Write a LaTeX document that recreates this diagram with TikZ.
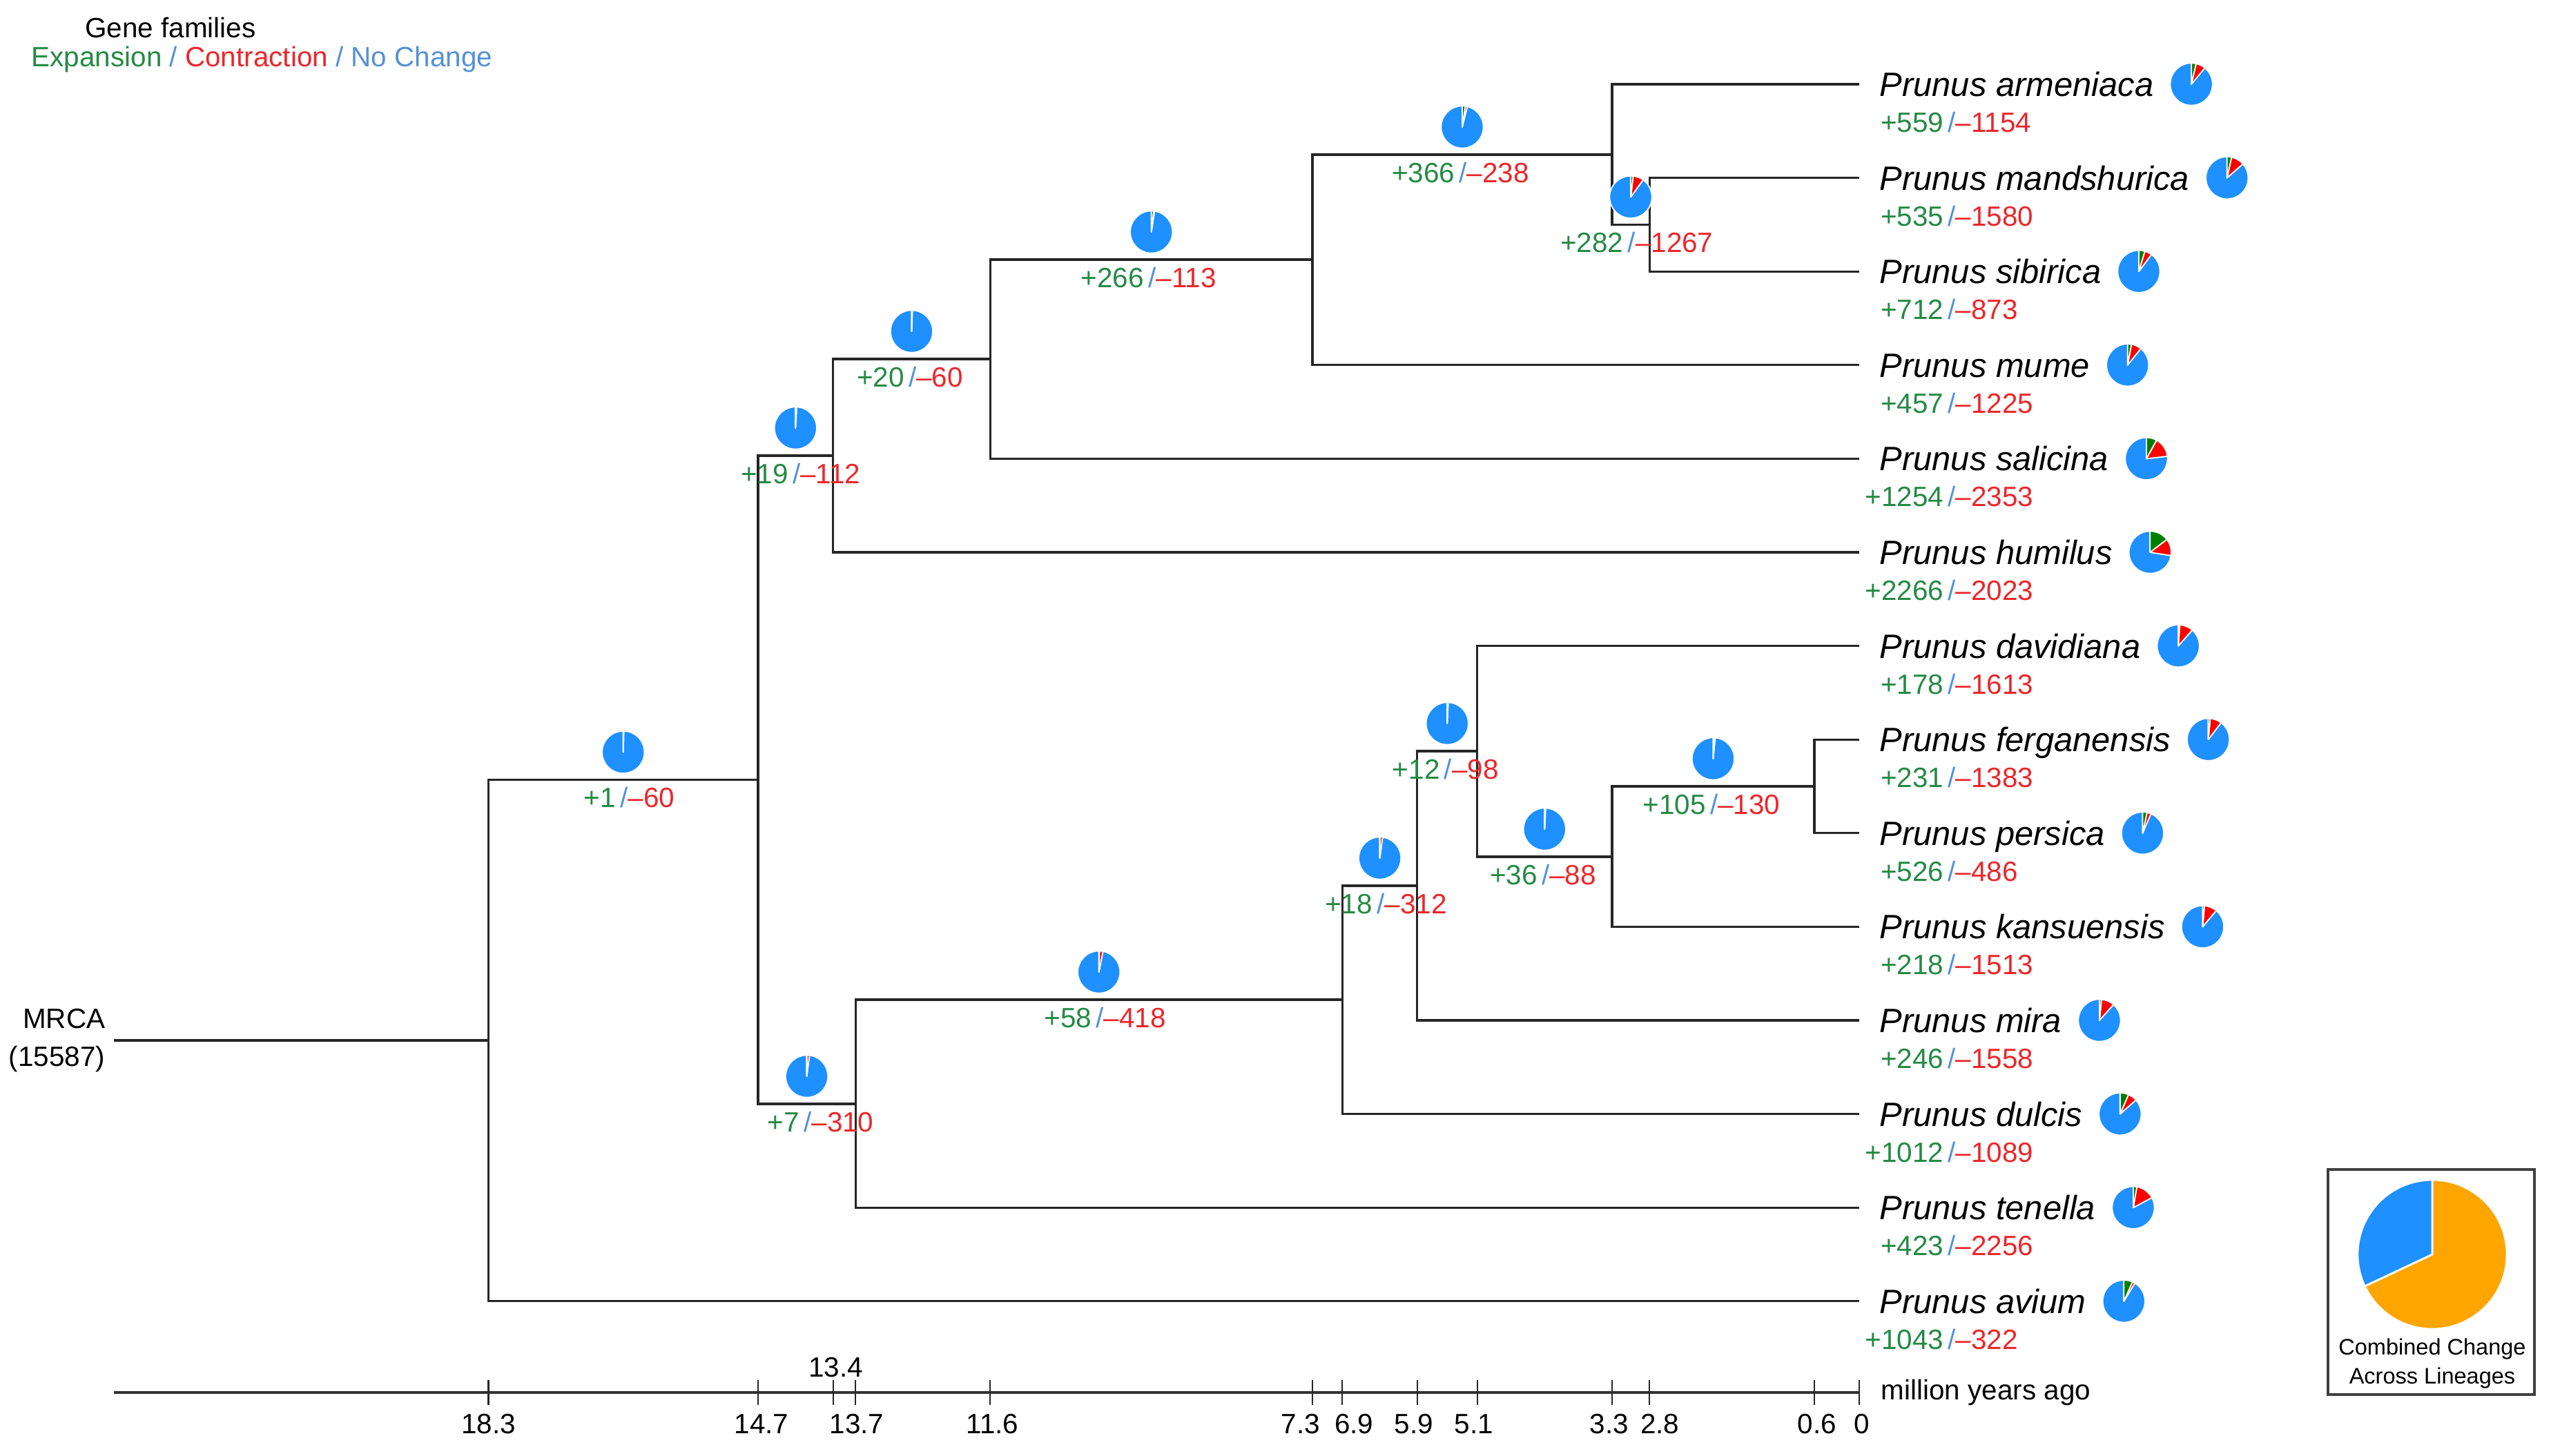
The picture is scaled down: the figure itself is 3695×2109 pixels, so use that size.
\documentclass[tikz,border=0pt]{standalone}
\usepackage{fontspec}
\setmainfont{Liberation Sans}
\usepackage{tikz}
\usetikzlibrary{calc,positioning}

\definecolor{txtgreen}{RGB}{36,138,68}
\definecolor{txtred}{RGB}{236,38,42}
\definecolor{slashblue}{RGB}{85,145,215}
\definecolor{piegreen}{RGB}{0,128,0}
\definecolor{piered}{RGB}{255,0,0}
\definecolor{pieblue}{RGB}{30,144,255}
\definecolor{pieorange}{RGB}{255,165,0}

\tikzstyle{branch} = [draw, black!85, line width=0.9pt]
\tikzstyle{pie} = [draw=white, line width=0.5pt, line join=round]
\tikzstyle{taxon} = [anchor=west, inner sep=0pt, text height=10pt, text depth=0pt, font=\fontsize{13.9}{16}\selectfont\itshape]
\tikzstyle{gain} = [anchor=east, inner sep=0pt, text height=8.2pt, text depth=0pt, text=txtgreen, font=\fontsize{11.5}{13}\selectfont]
\tikzstyle{loss} = [anchor=west, inner sep=0pt, text height=8.2pt, text depth=0pt, text=txtred, font=\fontsize{11.5}{13}\selectfont]
\tikzstyle{axis} = [draw, black!80, line width=1.3pt]
\tikzstyle{tick} = [draw, black!85, line width=0.6pt]
\tikzstyle{ticklabel} = [inner sep=0pt, text height=8.2pt, text depth=0pt, font=\fontsize{11.5}{13}\selectfont]

% x position of a time (million years ago), in pixels
\newcommand{\myr}[1]{2693-108.5*#1}
\newcommand{\pieR}{0.306cm}

% pie: centre, gained, lost (out of 15587 families)
\newcommand{\famPie}[3]{%
  \pgfmathsetmacro{\ga}{(#2/15587)*360}%
  \pgfmathsetmacro{\la}{(#3/15587)*360}%
  \filldraw[pie, fill=pieblue] (#1) -- ++({90-\ga-\la}:\pieR) arc[start angle={90-\ga-\la}, end angle=-270, radius=\pieR] -- cycle;
  \filldraw[pie, fill=piered] (#1) -- ++({90-\ga}:\pieR) arc[start angle={90-\ga}, delta angle={-\la}, radius=\pieR] -- cycle;
  \filldraw[pie, fill=piegreen] (#1) -- ++(90:\pieR) arc[start angle=90, delta angle={-\ga}, radius=\pieR] -- cycle;
}
% label: slash position, gained, lost
\newcommand{\famLabel}[3]{%
  \node[gain] (#1-g) at ($(#1)+(-10,0)$) {+#2};
  \node[loss] (#1-l) at ($(#1)+(-5,0)$) {\textcolor{slashblue}{/}--#3};
}
% parent, child, gained, lost
\newcommand{\branchInfo}[4]{%
  \coordinate (#2-mid) at ($(#1 |- #2)!0.5!(#2)$);
  \coordinate (#2-pie) at ($(#2-mid)+(0,-40)$);
  \famPie{#2-pie}{#3}{#4}
  \coordinate (#2-lab) at ($(#2-mid)+(0,26)$);
  \famLabel{#2-lab}{#3}{#4}
}
% id, y, species, gained, lost
\newcommand{\leafTaxon}[5]{%
  \coordinate (#1) at (2693,#2);
  \node[taxon, right=0.29cm of #1] (#1-name) {Prunus #3};
  \coordinate (#1-pie) at ($(#1-name.east)+(54,0)$);
  \famPie{#1-pie}{#4}{#5}
  \coordinate (#1-lab) at ($(#1)+(133,55)$);
  \famLabel{#1-lab}{#4}{#5}
}

\begin{document}
\begin{tikzpicture}[x=0.01cm, y=-0.01cm]
    \useasboundingbox (0,0) rectangle (3695,2109);

    % key
    \node[font=\fontsize{11.5}{13}\selectfont] (title) at (247,40) {Gene families};
    \node[anchor=west, inner sep=0pt, font=\fontsize{11.5}{13}\selectfont] (keys) at (45,86) {\textcolor{txtgreen}{Expansion} \textcolor{slashblue}{/} \textcolor{txtred}{Contraction} \textcolor{slashblue}{/} \textcolor{slashblue}{No Change}};

    % leaves
    \leafTaxon{armeniaca}{122}{armeniaca}{559}{1154}
    \leafTaxon{mandshurica}{257.6}{mandshurica}{535}{1580}
    \leafTaxon{sibirica}{393.2}{sibirica}{712}{873}
    \leafTaxon{mume}{528.8}{mume}{457}{1225}
    \leafTaxon{salicina}{664.4}{salicina}{1254}{2353}
    \leafTaxon{humilus}{800}{humilus}{2266}{2023}
    \leafTaxon{davidiana}{935.6}{davidiana}{178}{1613}
    \leafTaxon{ferganensis}{1071.2}{ferganensis}{231}{1383}
    \leafTaxon{persica}{1206.8}{persica}{526}{486}
    \leafTaxon{kansuensis}{1342.4}{kansuensis}{218}{1513}
    \leafTaxon{mira}{1478}{mira}{246}{1558}
    \leafTaxon{dulcis}{1613.6}{dulcis}{1012}{1089}
    \leafTaxon{tenella}{1749.2}{tenella}{423}{2256}
    \leafTaxon{avium}{1884.8}{avium}{1043}{322}

    % internal nodes
    \coordinate (root) at ({\myr{18.3}},1507);
    \coordinate (nA) at ({\myr{14.7}},1129.5);
    \coordinate (nB) at ({\myr{13.7}},660);
    \coordinate (nC) at ({\myr{11.6}},520);
    \coordinate (nD) at ({\myr{7.3}},376);
    \coordinate (nE) at ({\myr{3.3}},224);
    \coordinate (nF) at ({\myr{2.8}},325.4);
    \coordinate (nG) at ({\myr{13.4}},1599);
    \coordinate (nH) at ({\myr{6.9}},1448);
    \coordinate (nI) at ({\myr{5.9}},1283);
    \coordinate (nJ) at ({\myr{5.1}},1088);
    \coordinate (nK) at ({\myr{3.3}},1241);
    \coordinate (nL) at ({\myr{0.6}},1139);
    \coordinate (stem) at (165,1507);
    \node[left=0.12cm of stem, align=right, inner sep=0pt, font=\fontsize{11.5}{15.4}\selectfont] (mrca) {MRCA\\(15587)};

    % branches
    \path[branch] (stem) -- (root);
    \path[branch] (root) |- (nA);
    \path[branch] (root) |- (avium);
    \path[branch] (nA) |- (nB);
    \path[branch] (nA) |- (nG);
    \path[branch] (nB) |- (nC);
    \path[branch] (nB) |- (humilus);
    \path[branch] (nC) |- (nD);
    \path[branch] (nC) |- (salicina);
    \path[branch] (nD) |- (nE);
    \path[branch] (nD) |- (mume);
    \path[branch] (nE) |- (armeniaca);
    \path[branch] (nE) |- (nF);
    \path[branch] (nF) |- (mandshurica);
    \path[branch] (nF) |- (sibirica);
    \path[branch] (nG) |- (nH);
    \path[branch] (nG) |- (tenella);
    \path[branch] (nH) |- (nI);
    \path[branch] (nH) |- (dulcis);
    \path[branch] (nI) |- (nJ);
    \path[branch] (nI) |- (mira);
    \path[branch] (nJ) |- (davidiana);
    \path[branch] (nJ) |- (nK);
    \path[branch] (nK) |- (nL);
    \path[branch] (nK) |- (kansuensis);
    \path[branch] (nL) |- (ferganensis);
    \path[branch] (nL) |- (persica);

    % changes on internal branches
    \branchInfo{root}{nA}{1}{60}
    \branchInfo{nA}{nB}{19}{112}
    \branchInfo{nB}{nC}{20}{60}
    \branchInfo{nC}{nD}{266}{113}
    \branchInfo{nD}{nE}{366}{238}
    \branchInfo{nE}{nF}{282}{1267}
    \branchInfo{nA}{nG}{7}{310}
    \branchInfo{nG}{nH}{58}{418}
    \branchInfo{nH}{nI}{18}{312}
    \branchInfo{nI}{nJ}{12}{98}
    \branchInfo{nJ}{nK}{36}{88}
    \branchInfo{nK}{nL}{105}{130}

    % time axis
    \coordinate (axisL) at (165,2017);
    \coordinate (axisR) at (2693,2017);
    \path[axis] (axisL) -- (axisR);
    \foreach \t in {18.3,14.7,13.7,13.4,11.6,7.3,6.9,5.9,5.1,3.3,3.3,2.8,0.6,0}
        \path[tick] ({\myr{\t}},1999) -- ({\myr{\t}},2035);
    \foreach \t/\dx/\s in {18.3/0/18.3,14.7/5/14.7,13.4/2/13.7,11.6/3/11.6,7.3/-17/7.3,6.9/17/6.9,5.9/-5/5.9,5.1/-5/5.1,3.3/-4/3.3,2.8/15/2.8,0.6/4/0.6,0/4/0}
        \node[ticklabel] (tl-\s) at ({\myr{\t}+\dx},2062) {\s};
    \node[ticklabel] (tl-top) at ({\myr{13.7}+4},1980) {13.4};
    \node[right=0.31cm of axisR, inner sep=0pt, font=\fontsize{11.5}{13}\selectfont] (unit) {million years ago};

    % combined change key
    \node[draw=black!75, line width=1pt, minimum width=2.99cm, minimum height=3.26cm, inner sep=0pt] (keybox) at (3521.5,1857) {};
    \coordinate (combo) at (3523,1817);
    \filldraw[pie, line width=0.8pt, fill=pieorange] (combo) -- ++(90:1.08cm) arc[start angle=90, delta angle=-244.8, radius=1.08cm] -- cycle;
    \filldraw[pie, line width=0.8pt, fill=pieblue] (combo) -- ++(-154.8:1.08cm) arc[start angle=-154.8, end angle=-270, radius=1.08cm] -- cycle;
    \node[align=center, inner sep=0pt, font=\fontsize{9.25}{12}\selectfont] (keytext) at (3523,1975) {Combined Change\\Across Lineages};
\end{tikzpicture}
\end{document}
